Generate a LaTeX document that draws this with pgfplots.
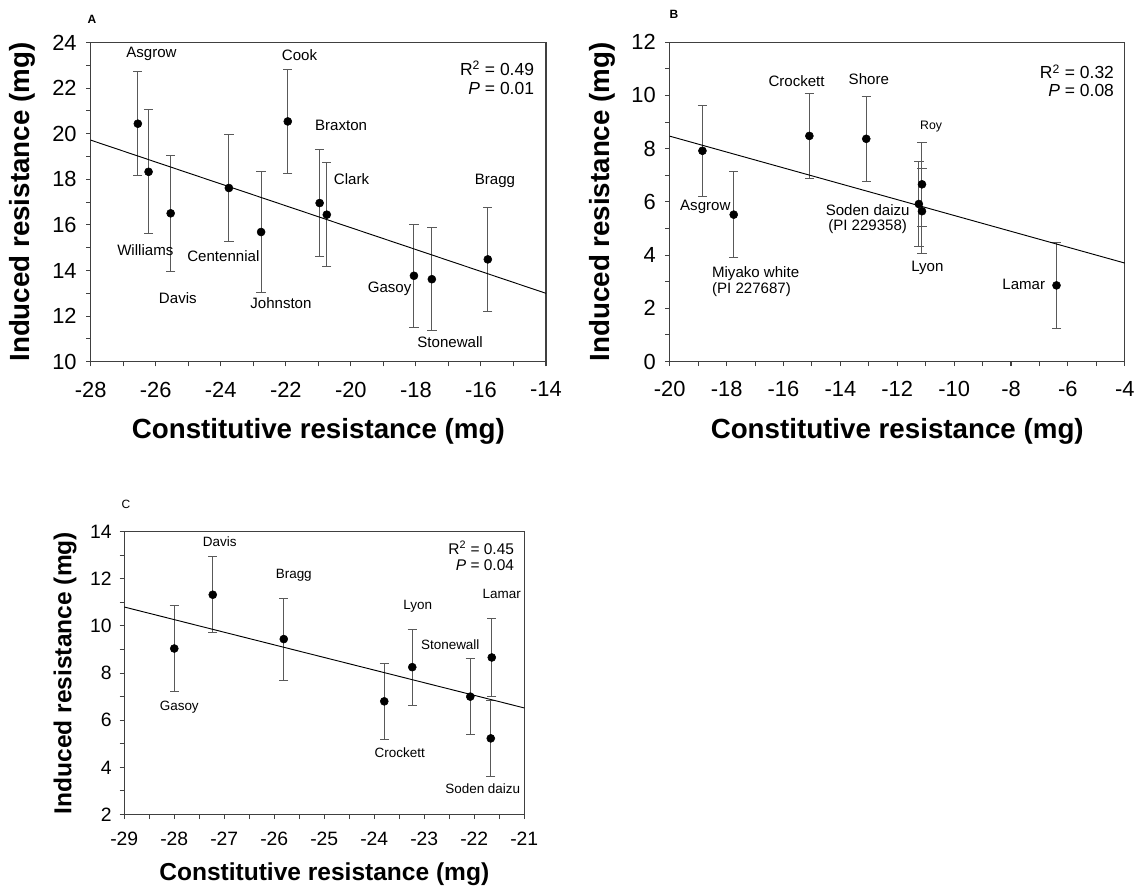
\documentclass[border=0pt]{standalone}
\usepackage{fontspec}
\setmainfont{Liberation Sans}
\usepackage{pgfplots}
\pgfplotsset{compat=1.18}

\newcommand\lab{\fontsize{11.3}{13}\selectfont}
\newcommand\labc{\fontsize{10.1}{12}\selectfont}

\pgfplotsset{
  panel/.style={
    scale only axis, clip=false,
    axis line style={black!75, line width=0.9pt},
    tick align=outside, xtick pos=bottom, ytick pos=left,
    minor x tick num=1, minor y tick num=1,
    major tick length=3.5pt, minor tick length=3.5pt,
    tick style={black!75, line width=0.8pt},
    /pgf/number format/assume math mode=true,
    xlabel={Constitutive resistance (mg)},
    ylabel={Induced resistance (mg)},
    ylabel style={anchor=center},
    xlabel style={anchor=center},
  },
  big/.style={
    xlabel style={at={(axis description cs:0.5,-0.219)}},
    ylabel style={at={(axis description cs:-0.149,0.5)}},
    label style={font=\fontsize{20.8}{22}\selectfont\bfseries},
    tick label style={font=\fontsize{16.4}{18}\selectfont},
    xticklabel style={yshift=-8pt},
    yticklabel style={xshift=-3.5pt},
  },
  pts/.style={only marks, mark=*, mark size=3pt, black,
    error bars/.cd, y dir=both, y explicit,
    error bar style={black!65, line width=0.75pt},
    error mark options={rotate=90, black!65, mark size=3.5pt, line width=0.75pt}},
  fit/.style={black, line width=0.7pt, no marks},
}

\pgfplotstableread{
x y e
-26.55 20.44 2.29
-26.22 18.33 2.72
-25.54 16.51 2.55
-23.75 17.62 2.35
-22.76 15.69 2.66
-21.94 20.54 2.29
-20.96 16.96 2.36
-20.74 16.45 2.27
-18.06 13.77 2.27
-17.51 13.62 2.27
-15.79 14.49 2.28
}\dataA

\pgfplotstableread{
x y e
-18.85 7.92 1.72
-17.75 5.52 1.61
-15.09 8.48 1.60
-13.09 8.37 1.60
-11.24 5.92 1.60
-11.13 6.66 1.59
-11.13 5.65 1.60
-6.40 2.86 1.61
}\dataB

\pgfplotstableread{
x y e
-28.00 9.04 1.81
-27.23 11.32 1.61
-25.81 9.44 1.74
-23.80 6.80 1.61
-23.24 8.25 1.61
-22.08 7.00 1.61
-21.65 8.66 1.67
-21.67 5.23 1.61
}\dataC

\begin{document}
\begin{tikzpicture}
\path[use as bounding box] (0,0) rectangle (852.75pt,-666pt);

% panel A
\begin{axis}[panel, big, at={(68.0pt,-271.3pt)}, anchor=south west,
  width=341.5pt, height=239.4pt,
  xmin=-28, xmax=-14, ymin=10, ymax=24,
  xtick={-28,-26,...,-14}, ytick={10,12,...,24}]
\addplot[pts] table[x=x, y=y, y error=e] {\dataA};
\addplot[fit] coordinates {(-28,19.72) (-14,13.0)};
\node[font=\lab] at (axis cs:-26.13,23.52) {Asgrow};
\node[font=\lab] at (axis cs:-21.58,23.44) {Cook};
\node[font=\lab] at (axis cs:-20.3,20.36) {Braxton};
\node[font=\lab] at (axis cs:-19.98,18.02) {Clark};
\node[font=\lab] at (axis cs:-15.57,17.95) {Bragg};
\node[font=\lab] at (axis cs:-26.32,14.91) {Williams};
\node[font=\lab] at (axis cs:-23.92,14.65) {Centennial};
\node[font=\lab] at (axis cs:-25.32,12.77) {Davis};
\node[font=\lab] at (axis cs:-22.15,12.57) {Johnston};
\node[font=\lab] at (axis cs:-18.81,13.18) {Gasoy};
\node[font=\lab] at (axis cs:-16.95,10.84) {Stonewall};
\node[font=\fontsize{13.1}{15}\selectfont, anchor=east, inner sep=0pt] at (axis cs:-14.36,22.86) {R\textsuperscript{2} = 0.49};
\node[font=\fontsize{13.1}{15}\selectfont, anchor=east, inner sep=0pt] at (axis cs:-14.36,21.98) {\textit{P} = 0.01};
\node[font=\fontsize{9}{11}\selectfont\bfseries] at (axis description cs:0.003,1.071) {A};
\end{axis}

% panel B
\begin{axis}[panel, big, at={(502.3pt,-271.1pt)}, anchor=south west,
  width=341.25pt, height=239.4pt,
  xmin=-20, xmax=-4, ymin=0, ymax=12,
  xtick={-20,-18,...,-4}, ytick={0,2,...,12},
  ylabel style={at={(axis description cs:-0.147,0.5)}}]
\addplot[pts] table[x=x, y=y, y error=e] {\dataB};
\addplot[fit] coordinates {(-20,8.47) (-4,3.70)};
\node[font=\lab] at (axis cs:-15.54,10.55) {Crockett};
\node[font=\lab] at (axis cs:-13.0,10.6) {Shore};
\node[font=\fontsize{9.2}{11}\selectfont] at (axis cs:-10.81,8.85) {Roy};
\node[font=\lab] at (axis cs:-18.75,5.80) {Asgrow};
\node[font=\lab, anchor=west, inner sep=0pt] at (axis cs:-18.52,3.32) {Miyako white};
\node[font=\lab, anchor=west, inner sep=0pt] at (axis cs:-18.52,2.70) {(PI 227687)};
\node[font=\lab] at (axis cs:-13.04,5.68) {Soden daizu};
\node[font=\lab] at (axis cs:-13.04,5.06) {(PI 229358)};
\node[font=\lab] at (axis cs:-10.94,3.53) {Lyon};
\node[font=\lab, anchor=east, inner sep=0pt] at (axis cs:-6.79,2.89) {Lamar};
\node[font=\fontsize{13.1}{15}\selectfont, anchor=east, inner sep=0pt] at (axis cs:-4.37,10.89) {R\textsuperscript{2} = 0.32};
\node[font=\fontsize{13.1}{15}\selectfont, anchor=east, inner sep=0pt] at (axis cs:-4.37,10.18) {\textit{P} = 0.08};
\node[font=\fontsize{9}{11}\selectfont\bfseries] at (axis description cs:0.009,1.086) {B};
\end{axis}

% panel C
\begin{axis}[panel, at={(93.2pt,-610.9pt)}, anchor=south west,
  width=300pt, height=212.25pt,
  xmin=-29, xmax=-21, ymin=2, ymax=14,
  xtick={-29,-28,...,-21}, ytick={2,4,...,14},
  xlabel style={at={(axis description cs:0.5,-0.212)}},
  ylabel style={at={(axis description cs:-0.148,0.5)}},
  label style={font=\fontsize{18.4}{20}\selectfont\bfseries},
  tick label style={font=\fontsize{14.5}{16}\selectfont},
  xticklabel style={yshift=-6pt},
  yticklabel style={xshift=-2.5pt}]
\addplot[pts] table[x=x, y=y, y error=e] {\dataC};
\addplot[fit] coordinates {(-29,10.8) (-21,6.52)};
\node[font=\labc] at (axis cs:-27.09,13.58) {Davis};
\node[font=\labc] at (axis cs:-25.61,12.14) {Bragg};
\node[font=\labc] at (axis cs:-27.9,6.56) {Gasoy};
\node[font=\labc] at (axis cs:-23.13,10.82) {Lyon};
\node[font=\labc] at (axis cs:-22.48,9.2) {Stonewall};
\node[font=\labc] at (axis cs:-21.45,11.35) {Lamar};
\node[font=\labc] at (axis cs:-23.49,4.64) {Crockett};
\node[font=\labc] at (axis cs:-21.83,3.09) {Soden daizu};
\node[font=\fontsize{11.6}{13}\selectfont, anchor=east, inner sep=0pt] at (axis cs:-21.2,13.32) {R\textsuperscript{2} = 0.45};
\node[font=\fontsize{11.6}{13}\selectfont, anchor=east, inner sep=0pt] at (axis cs:-21.2,12.56) {\textit{P} = 0.04};
\node[font=\fontsize{9}{11}\selectfont] at (axis description cs:0.004,1.097) {C};
\end{axis}
\end{tikzpicture}
\end{document}
